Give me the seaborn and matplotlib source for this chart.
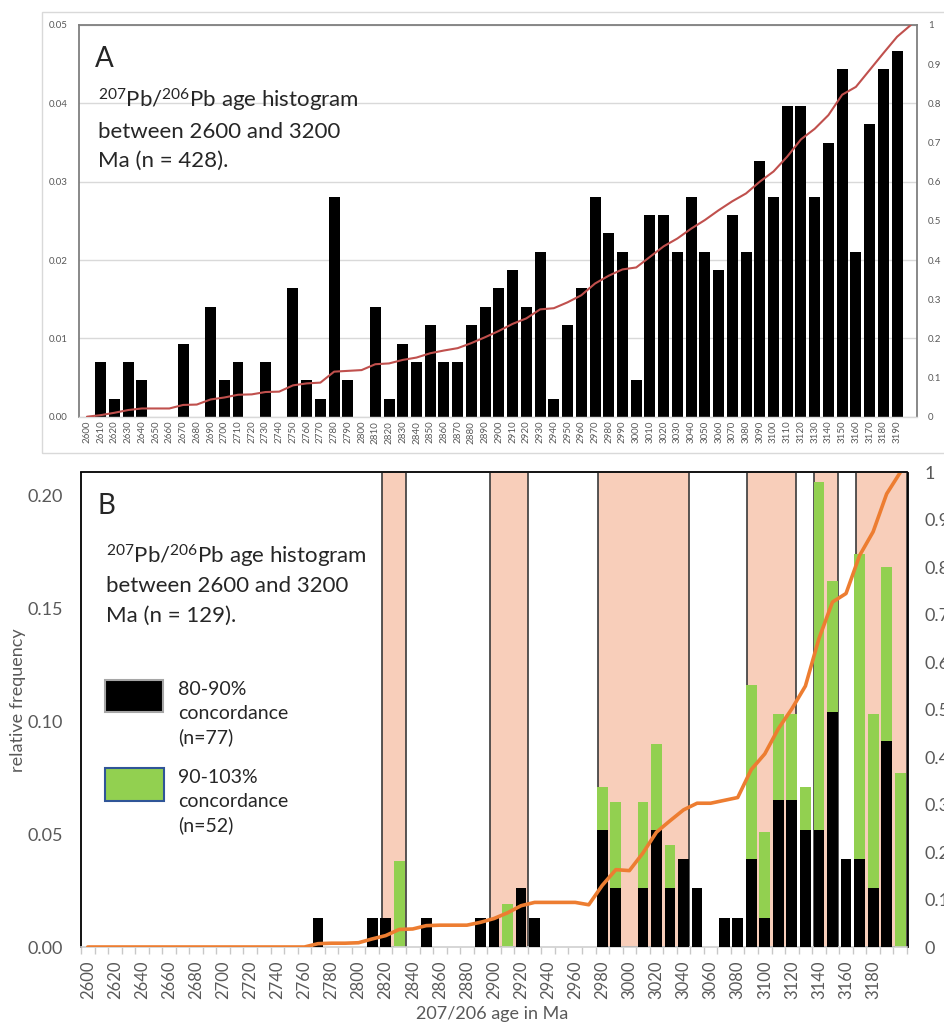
import numpy as np
import matplotlib
matplotlib.use("Agg")
import matplotlib.pyplot as plt
from matplotlib.patches import Rectangle
import seaborn as sns

# ---------------- data: panel A ----------------
ages_a = list(range(2600, 3200, 10))
freq_a = [0, 0.0070, 0.0023, 0.0070, 0.0047, 0, 0, 0.0093, 0, 0.0140,
          0.0047, 0.0070, 0, 0.0070, 0, 0.0164, 0.0047, 0.0023, 0.0280, 0.0047,
          0, 0.0140, 0.0023, 0.0093, 0.0070, 0.0117, 0.0070, 0.0070, 0.0117, 0.0140,
          0.0164, 0.0187, 0.0140, 0.0210, 0.0023, 0.0117, 0.0164, 0.0280, 0.0234, 0.0210,
          0.0047, 0.0257, 0.0257, 0.0210, 0.0280, 0.0210, 0.0187, 0.0257, 0.0210, 0.0327,
          0.0280, 0.0397, 0.0397, 0.0280, 0.0350, 0.0444, 0.0210, 0.0374, 0.0444, 0.0467]
cum_x = list(range(2600, 3201, 10))
cum_a = [0, 0.004, 0.010, 0.017, 0.021, 0.021, 0.021, 0.030, 0.031, 0.044,
         0.049, 0.056, 0.057, 0.063, 0.064, 0.080, 0.085, 0.087, 0.115, 0.117,
         0.119, 0.134, 0.136, 0.145, 0.151, 0.162, 0.169, 0.175, 0.188, 0.203,
         0.219, 0.237, 0.251, 0.274, 0.277, 0.292, 0.310, 0.340, 0.360, 0.376,
         0.381, 0.408, 0.435, 0.455, 0.480, 0.502, 0.527, 0.550, 0.570, 0.600,
         0.626, 0.664, 0.708, 0.735, 0.770, 0.822, 0.842, 0.885, 0.928, 0.970,
         1.0]

# ---------------- data: panel B ----------------
ages_b = list(range(2600, 3201, 10))
black_b = [0, 0, 0, 0, 0, 0, 0, 0, 0, 0,
           0, 0, 0, 0, 0, 0, 0, 0.013, 0, 0,
           0, 0.013, 0.013, 0, 0, 0.013, 0, 0, 0, 0.013,
           0.013, 0, 0.026, 0.013, 0, 0, 0, 0, 0.052, 0.026,
           0, 0.026, 0.052, 0.026, 0.039, 0.026, 0, 0.013, 0.013, 0.039,
           0.013, 0.065, 0.065, 0.052, 0.052, 0.104, 0.039, 0.039, 0.026, 0.091,
           0]
green_b = [0, 0, 0, 0, 0, 0, 0, 0, 0, 0,
           0, 0, 0, 0, 0, 0, 0, 0, 0, 0,
           0, 0, 0, 0.038, 0, 0, 0, 0, 0, 0,
           0, 0.019, 0, 0, 0, 0, 0, 0, 0.019, 0.038,
           0, 0.038, 0.038, 0.019, 0, 0, 0, 0, 0, 0.077,
           0.038, 0.038, 0.038, 0.019, 0.154, 0.058, 0, 0.135, 0.077, 0.077,
           0.077]
cum_b = [0, 0, 0, 0, 0, 0, 0, 0, 0, 0,
         0, 0, 0, 0, 0, 0, 0, 0.007, 0.008, 0.008,
         0.009, 0.017, 0.024, 0.037, 0.038, 0.045, 0.046, 0.046, 0.046, 0.052,
         0.060, 0.072, 0.087, 0.094, 0.094, 0.094, 0.094, 0.089, 0.130, 0.163,
         0.161, 0.198, 0.242, 0.266, 0.289, 0.303, 0.303, 0.309, 0.315, 0.374,
         0.407, 0.460, 0.502, 0.550, 0.650, 0.727, 0.745, 0.825, 0.875, 0.955,
         1.0]
regions_b = [(2817, 2835), (2897, 2925), (2977, 3044), (3087, 3123),
             (3136, 3154), (3167, 3206)]
xtick_b = list(range(2600, 3181, 20))

# ---------------- style ----------------
sns.set_style("white")
plt.rcParams["font.family"] = ["Lato", "DejaVu Sans"]
plt.rcParams["mathtext.fontset"] = "custom"
plt.rcParams["mathtext.rm"] = "Lato"
plt.rcParams["mathtext.default"] = "regular"

W, H = 944, 1025
fig = plt.figure(figsize=(W / 100, H / 100), dpi=100)
fig.patch.set_facecolor("white")


def fx(x):
    return x / W


def fy(y):
    return 1 - y / H


def rect(l, t, r, b):
    return [fx(l), fy(b), (r - l) / W, (b - t) / H]


GRAY = "#595959"

# outer frame of panel A
fig.patches.append(Rectangle((fx(42), fy(453)), (990 - 42) / W, (453 - 12) / H,
                             transform=fig.transFigure, fill=False,
                             edgecolor="#d9d9d9", lw=1))

# ================= Panel A =================
axA = fig.add_axes(rect(79, 25, 917, 416.7))
sns.barplot(x=ages_a, y=freq_a, native_scale=True, color="black", saturation=1,
            width=0.8, errorbar=None, linewidth=0, ax=axA)
axA.set_xlim(2594.2, 3204.5)
axA.set_ylim(0, 0.05)
axA.set_yticks(np.arange(0, 0.0501, 0.01))
axA.set_yticklabels(["0.00", "0.01", "0.02", "0.03", "0.04", "0.05"])
axA.yaxis.grid(True, color="#d9d9d9", lw=1)
axA.xaxis.grid(False)
axA.set_axisbelow(True)
axA.set_xticks(ages_a)
axA.set_xticklabels([str(a) for a in ages_a], rotation=90)
axA.tick_params(axis="x", length=0, pad=3, labelsize=7, labelcolor=GRAY)
axA.tick_params(axis="y", length=0, pad=8, labelsize=7, labelcolor=GRAY)
axA.set_xlabel("")
axA.set_ylabel("")
for s in ["top", "left", "right"]:
    axA.spines[s].set_color("#7f7f7f")
    axA.spines[s].set_linewidth(1.3)
axA.spines["bottom"].set_color("#d9d9d9")
axA.spines["bottom"].set_linewidth(1)

axA2 = axA.twinx()
sns.lineplot(x=cum_x, y=cum_a, ax=axA2, color="#C0504D", lw=1.5, estimator=None)
axA2.set_ylim(0, 1)
axA2.set_yticks(np.arange(0, 1.001, 0.1))
axA2.set_yticklabels(["0", "0.1", "0.2", "0.3", "0.4", "0.5", "0.6", "0.7", "0.8", "0.9", "1"])
axA2.tick_params(axis="y", length=0, pad=8, labelsize=7, labelcolor=GRAY)
axA2.set_ylabel("")
for s in axA2.spines.values():
    s.set_visible(False)

fig.text(fx(95), fy(67), "A", fontsize=20, va="baseline", ha="left")
for txt, yb in [(r"$^{207}$Pb/$^{206}$Pb age histogram", 108),
                ("between 2600 and 3200", 137.5),
                ("Ma (n = 428).", 167)]:
    fig.text(fx(98), fy(yb), txt, fontsize=16, va="baseline", ha="left")

# ================= Panel B =================
axB = fig.add_axes(rect(81, 472.5, 907.5, 947))
xlimB = (2596.3, 3205.4)
for lo, hi in regions_b:
    axB.axvspan(lo, min(hi, xlimB[1]), facecolor="#F8CEBA", edgecolor="#3a3a3a",
                lw=1.2, zorder=0)
total_b = [b + g for b, g in zip(black_b, green_b)]
sns.barplot(x=ages_b, y=total_b, native_scale=True, color="#92D050", saturation=1,
            width=0.8, errorbar=None, linewidth=0, ax=axB, zorder=2)
sns.barplot(x=ages_b, y=black_b, native_scale=True, color="black", saturation=1,
            width=0.8, errorbar=None, linewidth=0, ax=axB, zorder=3)
axB.set_xlim(*xlimB)
axB.set_ylim(0, 0.21)
axB.set_yticks([0, 0.05, 0.10, 0.15, 0.20])
axB.set_yticklabels(["0.00", "0.05", "0.10", "0.15", "0.20"])
axB.set_xticks(xtick_b)
axB.set_xticklabels([str(a) for a in xtick_b], rotation=90)
axB.set_xticks([2595 + 10 * k for k in range(62)], minor=True)
axB.tick_params(axis="x", which="major", length=0, pad=10, labelsize=12, labelcolor=GRAY)
axB.tick_params(axis="x", which="minor", length=5, width=1, color="#c8c8c8",
                direction="out", bottom=True)
axB.tick_params(axis="y", length=0, pad=13, labelsize=13, labelcolor=GRAY)
axB.set_xlabel("")
axB.set_ylabel("")
axB.grid(False)
for s in ["top", "left", "right"]:
    axB.spines[s].set_color("black")
    axB.spines[s].set_linewidth(1.3)
axB.spines["bottom"].set_color("#d0d0d0")
axB.spines["bottom"].set_linewidth(1.2)

axB2 = axB.twinx()
sns.lineplot(x=cum_x, y=cum_b, ax=axB2, color="#ED7D31", lw=2.6, estimator=None)
axB2.set_ylim(0, 1)
axB2.set_yticks(np.arange(0, 1.001, 0.1))
axB2.set_yticklabels(["0", "0.1", "0.2", "0.3", "0.4", "0.5", "0.6", "0.7", "0.8", "0.9", "1"])
axB2.tick_params(axis="y", length=0, pad=12, labelsize=13, labelcolor=GRAY)
axB2.set_ylabel("")
for s in axB2.spines.values():
    s.set_visible(False)

fig.text(fx(98), fy(514), "B", fontsize=20, va="baseline", ha="left")
for txt, yb in [(r"$^{207}$Pb/$^{206}$Pb age histogram", 563),
                ("between 2600 and 3200", 592),
                ("Ma (n = 129).", 622)]:
    fig.text(fx(106), fy(yb), txt, fontsize=16, va="baseline", ha="left")

# legend patches
fig.patches.append(Rectangle((fx(105), fy(712)), 58 / W, 32 / H, transform=fig.transFigure,
                             facecolor="black", edgecolor="#a6a6a6", lw=1.5, zorder=5))
fig.patches.append(Rectangle((fx(105), fy(801)), 59 / W, 33 / H, transform=fig.transFigure,
                             facecolor="#92D050", edgecolor="#2F5597", lw=1.5, zorder=5))
for txt, yb in [("80-90%", 695), ("concordance", 719), ("(n=77)", 743),
                ("90-103%", 783), ("concordance", 807), ("(n=52)", 831)]:
    fig.text(fx(178), fy(yb), txt, fontsize=14, va="baseline", ha="left")

fig.text(fx(492), fy(1014), "207/206 age in Ma", fontsize=13, color=GRAY,
         ha="center", va="center")
fig.text(fx(18), fy(700), "relative frequency", fontsize=13, color=GRAY,
         ha="center", va="center", rotation=90)

fig.savefig("out.png", dpi=100, facecolor="white")
